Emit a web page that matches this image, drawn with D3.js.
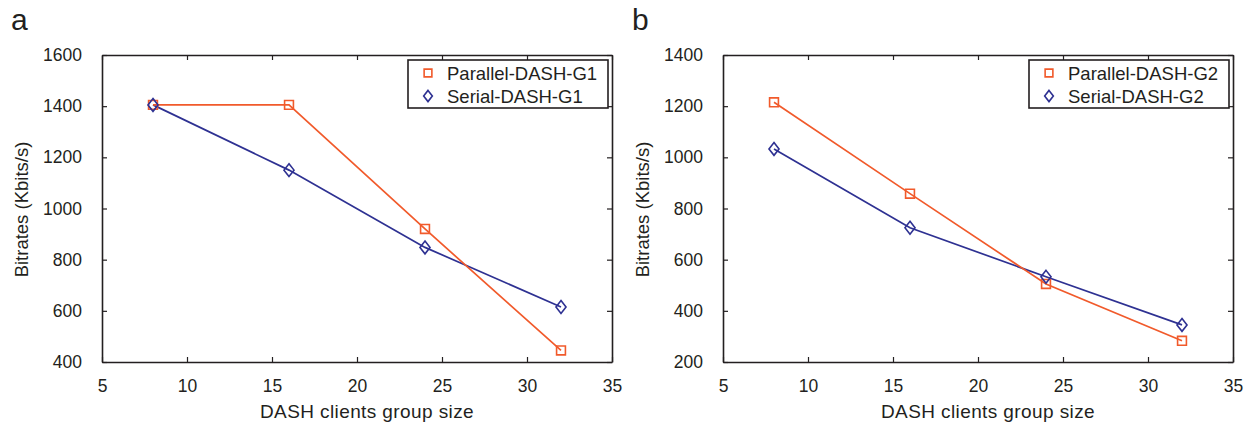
<!DOCTYPE html>
<html>
<head>
<meta charset="utf-8">
<script src="https://cdn.jsdelivr.net/npm/d3@7"></script>
<style>
  body { margin: 0; background: #fff; }
  text { font-family: "Liberation Sans", Arial, sans-serif; fill: #231f20; }
</style>
</head>
<body>
<div class="container"></div>
<script>
const WIDTH = 1258;
const HEIGHT = 423;

// data
var groupSizes = [8, 16, 24, 32];
var parallelG1 = [1405, 1405, 920, 445];
var serialG1 = [1405, 1150, 848, 615];
var parallelG2 = [1215, 858, 505, 283];
var serialG2 = [1033, 725, 533, 345];

var xTicks = [5, 10, 15, 20, 25, 30, 35];
var yTicksA = [400, 600, 800, 1000, 1200, 1400, 1600];
var yTicksB = [200, 400, 600, 800, 1000, 1200, 1400];

var ORANGE = '#f15a2b';
var BLUE = '#2e3192';

// wider diamond than d3's default
var wideDiamond = {
    draw: function (ctx, size) {
        var h = Math.sqrt(size) * 0.72, w = h * 0.78;
        ctx.moveTo(0, -h);
        ctx.lineTo(w, 0);
        ctx.lineTo(0, h);
        ctx.lineTo(-w, 0);
        ctx.closePath();
    }
};

var svg = d3.select('.container').append('svg')
    .attr('width', WIDTH)
    .attr('height', HEIGHT);

var drawPanel = function (opts) {
    var left = opts.left, top = 55, w = 510, h = 307;

    var xScale = d3.scaleLinear().domain([5, 35]).range([0, w]);
    var yScale = d3.scaleLinear().domain(opts.yDomain).range([h, 0]);

    var g = svg.append('g')
        .attr('transform', 'translate(' + left + ',' + top + ')');

    // inner ticks on all four sides
    var axes = [
        { axis: d3.axisBottom(xScale).tickValues(xTicks).tickSizeInner(-5).tickSizeOuter(0).tickPadding(18).tickFormat(d3.format('d')), t: [0, h] },
        { axis: d3.axisTop(xScale).tickValues(xTicks).tickSizeInner(-5).tickSizeOuter(0).tickFormat(''), t: [0, 0] },
        { axis: d3.axisLeft(yScale).tickValues(opts.yTicks).tickSizeInner(-5).tickSizeOuter(0).tickPadding(20).tickFormat(d3.format('d')), t: [0, 0] },
        { axis: d3.axisRight(yScale).tickValues(opts.yTicks).tickSizeInner(-5).tickSizeOuter(0).tickFormat(''), t: [w, 0] }
    ];
    axes.forEach(function (a) {
        var ag = g.append('g')
            .attr('transform', 'translate(' + a.t[0] + ',' + a.t[1] + ')')
            .call(a.axis);
        ag.select('.domain').attr('stroke', '#231f20').attr('stroke-width', 1.6);
        ag.selectAll('.tick line').attr('stroke', '#231f20').attr('stroke-width', 1.2);
        ag.selectAll('.tick text')
            .style('font-family', '"Liberation Sans", Arial, sans-serif')
            .style('font-size', '17.5px')
            .attr('fill', '#231f20');
    });

    var line = d3.line()
        .x(function (d) { return xScale(d[0]); })
        .y(function (d) { return yScale(d[1]); });

    var series = [
        { vals: opts.serial, color: BLUE, sym: wideDiamond, size: 80 },
        { vals: opts.parallel, color: ORANGE, sym: d3.symbolSquare, size: 78 }
    ];

    series.forEach(function (s) {
        var pts = groupSizes.map(function (x, i) { return [x, s.vals[i]]; });
        g.append('path')
            .datum(pts)
            .attr('fill', 'none')
            .attr('stroke', s.color)
            .attr('stroke-width', 1.7)
            .attr('d', line);
    });
    // markers after lines
    series.slice().reverse().forEach(function (s) {
        var pts = groupSizes.map(function (x, i) { return [x, s.vals[i]]; });
        g.selectAll(null).data(pts)
            .enter().append('path')
            .attr('transform', function (d) { return 'translate(' + xScale(d[0]) + ',' + yScale(d[1]) + ')'; })
            .attr('d', d3.symbol().type(s.sym).size(s.size))
            .attr('fill', 'none')
            .attr('stroke', s.color)
            .attr('stroke-width', 1.6);
    });

    // axis labels
    svg.append('text')
        .attr('x', left + w / 2 + 10)
        .attr('y', 418)
        .attr('text-anchor', 'middle')
        .style('font-size', '19px')
        .style('letter-spacing', '0.4px')
        .text('DASH clients group size');

    svg.append('text')
        .attr('transform', 'translate(' + (left - 74) + ',' + (top + h / 2 + 1) + ') rotate(-90)')
        .attr('text-anchor', 'middle')
        .style('font-size', '18.5px')
        .text('Bitrates (Kbits/s)');

    // panel letter
    svg.append('text')
        .attr('x', left - 91)
        .attr('y', 30)
        .style('font-size', '30px')
        .text(opts.letter);

    // legend
    var lg = g.append('g').attr('transform', 'translate(' + (w - 204) + ',5)');
    lg.append('rect')
        .attr('width', 200).attr('height', 48)
        .attr('fill', '#fff')
        .attr('stroke', '#231f20')
        .attr('stroke-width', 1.6);
    var items = [
        { name: opts.names[0], color: ORANGE, sym: d3.symbolSquare, size: 60 },
        { name: opts.names[1], color: BLUE, sym: wideDiamond, size: 60 }
    ];
    items.forEach(function (it, i) {
        var yy = 13 + i * 23;
        lg.append('path')
            .attr('transform', 'translate(20,' + yy + ')')
            .attr('d', d3.symbol().type(it.sym).size(it.size))
            .attr('fill', 'none')
            .attr('stroke', it.color)
            .attr('stroke-width', 1.6);
        lg.append('text')
            .attr('x', 39)
            .attr('y', yy + 6.5)
            .style('font-size', '18.5px')
            .text(it.name);
    });
};

drawPanel({ left: 102, yDomain: [400, 1600], yTicks: yTicksA, parallel: parallelG1, serial: serialG1,
    letter: 'a', names: ['Parallel-DASH-G1', 'Serial-DASH-G1'] });
drawPanel({ left: 723, yDomain: [200, 1400], yTicks: yTicksB, parallel: parallelG2, serial: serialG2,
    letter: 'b', names: ['Parallel-DASH-G2', 'Serial-DASH-G2'] });
</script>
</body>
</html>
